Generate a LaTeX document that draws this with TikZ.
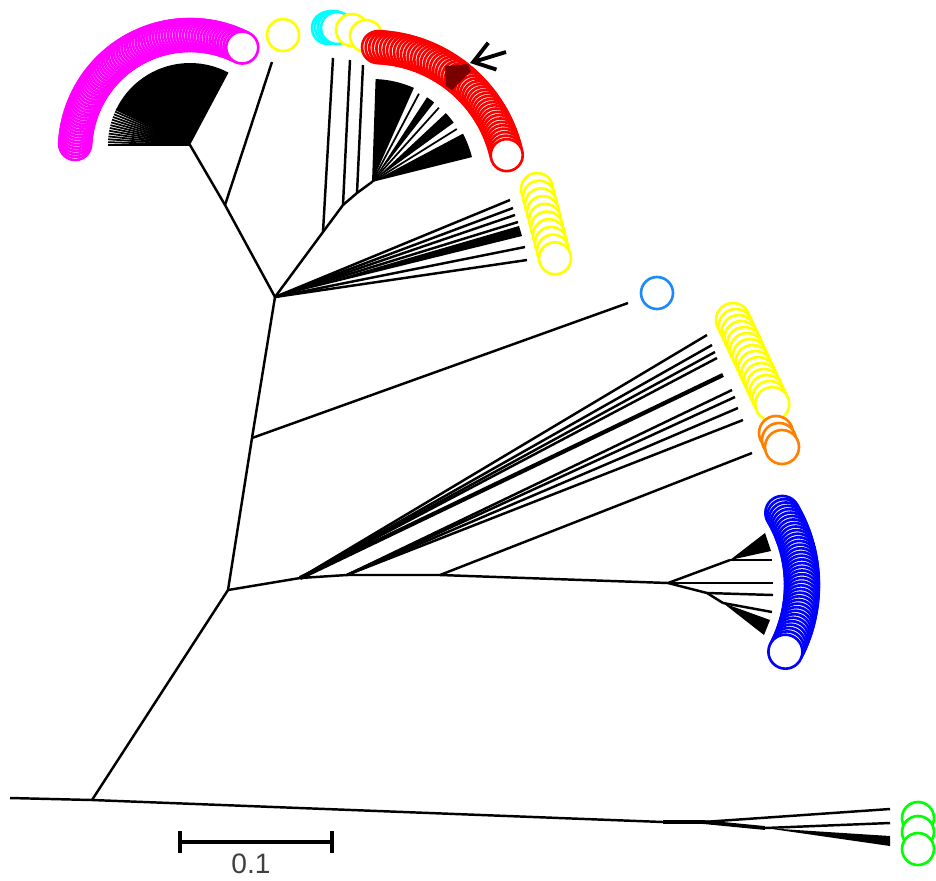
\documentclass[tikz,border=0pt]{standalone}
\usepackage{fontspec}
\setsansfont{Liberation Sans}
\usepackage{tikz}
\usetikzlibrary{arrows.meta}
\definecolor{tippink}{HTML}{FF00FF}
\definecolor{tipyellow}{HTML}{FFFF00}
\definecolor{tipcyan}{HTML}{00FFFF}
\definecolor{tipred}{HTML}{FF0000}
\definecolor{markred}{HTML}{7A0000}
\definecolor{tipsky}{HTML}{1E88FF}
\definecolor{tiporange}{HTML}{FF7F00}
\definecolor{tipblue}{HTML}{0000FF}
\definecolor{tipgreen}{HTML}{00FF00}
\definecolor{scalegray}{HTML}{404040}
\tikzset{
    branch/.style={
        draw=black,
        line width=1.4pt,
        line join=round
    },
    thinbranch/.style={
        draw=black,
        line width=1pt
    },
    wedge/.style={
        fill=black
    },
    tipcircle/.style={
        draw=#1,
        fill=white,
        line width=1.5pt
    },
    pointer/.style={
        -{Straight Barb[length=4mm, width=5.6mm]},
        line width=2.2pt,
        draw=black
    },
    scalebar/.style={
        draw=black,
        line width=2.3pt
    }
}

\begin{document}
\begin{tikzpicture}[x=0.02cm, y=-0.02cm]
    \useasboundingbox (0,0) rectangle (936,880);

    % inner nodes of the tree
    \coordinate (rootl) at (10,798);
    \coordinate (n1) at (92,800);
    \coordinate (n2) at (228,590);
    \coordinate (n3) at (252,438);
    \coordinate (n4) at (275,297);
    \coordinate (n5) at (225,205);
    \coordinate (pinkfan) at (190,145);
    \coordinate (pinkarc) at (190,150);
    \coordinate (n6) at (323,232);
    \coordinate (n7) at (343,205);
    \coordinate (n8) at (357,193);
    \coordinate (redfan) at (372,182);
    \coordinate (redarc) at (372,185);
    \coordinate (b1) at (300,578);
    \coordinate (b2) at (347,575);
    \coordinate (b3) at (440,575);
    \coordinate (bluefan) at (668,583);
    \coordinate (bluearc) at (660,585);
    \coordinate (bu) at (730,560);
    \coordinate (bl) at (707,593);
    \coordinate (bl2) at (723,603);
    \coordinate (g1) at (663,822);
    \coordinate (g2) at (703,822);
    \coordinate (g3) at (765,828);

    % backbone
    \draw[branch] (rootl) -- (n1) -- (g1) -- (g2);
    \draw[branch, line width=2.6pt] (g1) -- (g2);
    \draw[branch] (n1) -- (n2) -- (n3) -- (n4);
    \draw[branch] (n2) -- (b1) -- (b2) -- (b3) -- (bluefan);
    \draw[branch] (n3) -- (628,303);
    \draw[branch] (n4) -- (n5) -- (pinkfan);
    \draw[branch] (n5) -- (272,62);
    \draw[branch] (n4) -- (n6) -- (n7) -- (n8) -- (redfan);
    \draw[branch] (n6) -- (333,58);
    \draw[branch] (n7) -- (350,60);
    \draw[branch] (n8) -- (363,65);

    % pink fan
    \fill[wedge] (pinkfan) -- ++(-155:82) arc[start angle=-155, end angle=-62, radius=82] -- cycle;
    \foreach \a in {-180,-178,...,-154}
        \draw[thinbranch] (pinkfan) -- ++(\a:82);

    % red fan
    \fill[wedge] (redfan) -- ++(-88:103) arc[start angle=-88, end angle=-66, radius=103] -- cycle;
    \fill[wedge] (redfan) -- ++(-57:101) arc[start angle=-57, end angle=-52, radius=101] -- cycle;
    \fill[wedge] (redfan) -- ++(-43:101) arc[start angle=-43, end angle=-36, radius=101] -- cycle;
    \fill[wedge] (redfan) -- ++(-28:103) arc[start angle=-28, end angle=-14, radius=103] -- cycle;
    \foreach \a in {-62,-48,-32}
        \draw[thinbranch] (redfan) -- ++(\a:100);

    % upper yellow fan
    \foreach \p in {(510,200),(513,208),(515,215),(518,222),(525,247),(527,260)}
        \draw[branch] (n4) -- \p;
    \fill[wedge] (n4) -- (519,226) -- (522,236) -- cycle;

    % large middle fan
    \foreach \p in {(707,335),(712,345),(715,352),(717,358)}
        \draw[branch] (b1) -- \p;
    \draw[branch, line width=2.4pt] (b1) -- (723,375);
    \foreach \p in {(732,390),(735,397),(738,408),(743,420)}
        \draw[branch] (b2) -- \p;
    \draw[branch] (b3) -- (752,453);

    % blue fan
    \draw[branch] (bluefan) -- (bu);
    \fill[wedge] (bu) -- (765,533) -- (771,551) -- cycle;
    \draw[branch] (bu) -- (772,560);
    \draw[branch] (bluefan) -- (bl) -- (bl2);
    \draw[branch] (bluefan) -- (773,583);
    \draw[branch] (bl) -- (773,595);
    \draw[branch] (bl2) -- (772,612);
    \fill[wedge] (bl2) -- (770,620) -- (764,635) -- cycle;

    % green fan
    \draw[branch] (g2) -- (890,809);
    \draw[branch] (g2) -- (g3) -- (890,823);
    \draw[branch, line width=2.2pt] (g2) -- (g3);
    \fill[wedge] (g3) -- (890,836) -- (890,846) -- cycle;

    % tips
    \foreach \a in {-177,-175.5,...,-63}
        \draw[tipcircle=tippink, shift={(pinkarc)}] (\a:115) circle[radius=16];
    \draw[tipcircle=tipyellow] (283,35) circle[radius=16];
    \foreach \p in {(328,28),(331,27),(334,27),(337,28)}
        \draw[tipcircle=tipcyan] \p circle[radius=16];
    \foreach \p in {(352,30),(366,36)}
        \draw[tipcircle=tipyellow] \p circle[radius=16];
    \foreach \a in {-87.5,-86,...,-12.5}
        \draw[tipcircle=tipred, shift={(redarc)}] (\a:138) circle[radius=16];
    \fill[markred] (445,66) -- (468,64) -- (471,71) -- (452,90) -- (446,86) -- cycle;
    \foreach \i in {0,...,9}
        \draw[tipcircle=tipyellow] ({537+2*\i},{189+7.7*\i}) circle[radius=16];
    \draw[tipcircle=tipsky] (657,293) circle[radius=16];
    \foreach \i in {0,...,14}
        \draw[tipcircle=tipyellow] ({733+2.8*\i},{320+6*\i}) circle[radius=17];
    \foreach \p in {(776,433),(779,440),(782,447)}
        \draw[tipcircle=tiporange] \p circle[radius=17];
    \foreach \a in {-30.5,-29,...,29}
        \draw[tipcircle=tipblue, shift={(bluearc)}] (\a:142) circle[radius=17];
    \foreach \p in {(918,818),(918,832),(918,849)}
        \draw[tipcircle=tipgreen] \p circle[radius=16];

    % marked leaf
    \coordinate (arrowtail) at (506,52);
    \coordinate (arrowtip) at (470,63);
    \draw[pointer] (arrowtail) -- (arrowtip);

    % scale
    \coordinate (scalel) at (180,842);
    \coordinate (scaler) at (332,842);
    \draw[scalebar] (scalel) -- (scaler);
    \draw[scalebar] ([yshift=-0.22cm]scalel) -- ([yshift=0.22cm]scalel);
    \draw[scalebar] ([yshift=-0.22cm]scaler) -- ([yshift=0.22cm]scaler);
    \node[font=\sffamily\fontsize{16}{18}\selectfont, text=scalegray] (scalelabel) at (251,864) {0.1};
\end{tikzpicture}
\end{document}
